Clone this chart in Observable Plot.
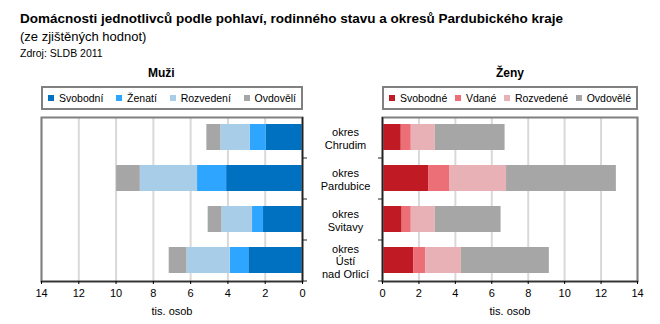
<!DOCTYPE html>
<html><head><meta charset="utf-8">
<script src="https://cdn.jsdelivr.net/npm/d3@7"></script>
<script src="https://cdn.jsdelivr.net/npm/@observablehq/plot@0.6"></script>
<style>
body{margin:0;background:#fff;font-family:"Liberation Sans",Arial,sans-serif;color:#000;}
#wrap{position:relative;width:660px;height:324px;overflow:hidden;}
.abs{position:absolute;white-space:nowrap;}
.legend{position:absolute;box-sizing:border-box;border:2px solid #808080;height:24px;display:flex;align-items:center;justify-content:space-between;font-size:10.5px;padding:0 5px 0 5px;}
.legend span.item{display:inline-flex;align-items:center;}
.legend span.sw{display:inline-block;width:6px;height:6px;margin-right:5px;}
</style></head>
<body><div id="wrap">
<div class="abs" style="left:20px;top:11px;font-size:13.5px;font-weight:bold;">Domácnosti jednotlivců podle pohlaví, rodinného stavu a okresů Pardubického kraje</div>
<div class="abs" style="left:20px;top:29px;font-size:13px;">(ze zjištěných hodnot)</div>
<div class="abs" style="left:20px;top:47px;font-size:10.5px;">Zdroj: SLDB 2011</div>
<div class="abs" style="left:148px;top:66px;font-size:12px;font-weight:bold;">Muži</div>
<div class="abs" style="left:496px;top:66px;font-size:12px;font-weight:bold;">Ženy</div>
<div id="legL" class="legend" style="left:41px;top:86px;width:262px;"></div>
<div id="legR" class="legend" style="left:382px;top:86px;width:256px;"></div>
<div id="plotL" class="abs" style="left:0;top:112px;"></div>
<div id="plotR" class="abs" style="left:374px;top:112px;"></div>
</div>
<script>
// categories
const okresy = ["Chrudim", "Pardubice", "Svitavy", "Ústí nad Orlicí"];
const okresLabels = ["okres\nChrudim", "okres\nPardubice", "okres\nSvitavy", "okres\nÚstí\nnad Orlicí"];
// men (thousands of persons)
const muziSeries = ["Svobodní", "Ženatí", "Rozvedení", "Ovdovělí"];
const muziSvobodni = [1.95, 4.07, 2.09, 2.88];
const muziZenati = [0.86, 1.56, 0.59, 1.00];
const muziRozvedeni = [1.57, 3.07, 1.64, 2.32];
const muziOvdoveli = [0.75, 1.27, 0.74, 0.95];
const muziColors = ["#0070c0", "#2ea6ff", "#a8cde8", "#a6a6a6"];
// women
const zenySeries = ["Svobodné", "Vdané", "Rozvedené", "Ovdovělé"];
const zenySvobodne = [1.03, 2.53, 1.08, 1.71];
const zenyVdane = [0.55, 1.18, 0.50, 0.66];
const zenyRozvedene = [1.32, 3.10, 1.32, 1.96];
const zenyOvdovele = [3.83, 6.03, 3.61, 4.83];
const zenyColors = ["#c01b24", "#ec6e76", "#e8b1b5", "#a6a6a6"];
// axis
const xTicks = [0, 2, 4, 6, 8, 10, 12, 14];
const xLabel = "tis. osob";

function table(series, arrays) {
  const rows = [];
  series.forEach((s, si) => okresy.forEach((o, i) => rows.push({okres: o, stav: s, value: arrays[si][i]})));
  return rows;
}
const muzi = table(muziSeries, [muziSvobodni, muziZenati, muziRozvedeni, muziOvdoveli]);
const zeny = table(zenySeries, [zenySvobodne, zenyVdane, zenyRozvedene, zenyOvdovele]);

function legend(el, series, colors) {
  const d = document.getElementById(el);
  series.forEach((s, i) => {
    const it = document.createElement("span"); it.className = "item";
    const sw = document.createElement("span"); sw.className = "sw"; sw.style.background = colors[i];
    it.appendChild(sw); it.appendChild(document.createTextNode(s)); d.appendChild(it);
  });
}
legend("legL", muziSeries, muziColors);
legend("legR", zenySeries, zenyColors);

const H = 212, MT = 5, MB = 43;
const step = (H - MT - MB) / okresy.length;

function chart({data, series, colors, left, width, ml, mr}) {
  const marks = [
    Plot.gridX(xTicks, {stroke: "#d9d9d9", strokeOpacity: 1, strokeWidth: 2}),
    Plot.barX(data, Plot.stackX({order: series}, {y: "okres", x: "value", fill: "stav", insetTop: 0, insetBottom: 0})),
    Plot.frame({stroke: "#808080", strokeWidth: 2}),
    Plot.frame({anchor: "bottom", stroke: "#333", strokeWidth: 1.5}),
    Plot.ruleX([0], {stroke: "#222", strokeWidth: 1.5}),
    Plot.axisX({ticks: xTicks, tickSize: 3, tickPadding: 5, fontSize: 11, label: xLabel, labelAnchor: "center", labelArrow: "none", labelOffset: 33}),
    Plot.axisY({anchor: left ? "right" : "left", label: null, tickSize: 4, tickFormat: () => "", dy: step / 2, stroke: "#222"})
  ];
  if (left) {
    marks.push(Plot.text(okresy, {x: () => 0, y: d => d, text: (d, i) => okresLabels[i], dx: 43, dy: 1, fontSize: 11, lineHeight: 1.12, textAnchor: "middle", fill: "#000"}));
  }
  return Plot.plot({
    width, height: H, marginTop: MT, marginBottom: MB, marginLeft: ml, marginRight: mr,
    style: {fontFamily: "Liberation Sans, Arial, sans-serif", fontSize: "11px", color: "#000", overflow: "visible"},
    x: {domain: [0, 14], reverse: left},
    y: {domain: okresy, paddingInner: 0.36, paddingOuter: 0.18, axis: null},
    color: {domain: series, range: colors},
    marks
  });
}
document.getElementById("plotL").appendChild(chart({data: muzi, series: muziSeries, colors: muziColors, left: true, width: 374, ml: 41, mr: 72}));
document.getElementById("plotR").appendChild(chart({data: zeny, series: zenySeries, colors: zenyColors, left: false, width: 286, ml: 8, mr: 23}));
</script>
</body></html>
